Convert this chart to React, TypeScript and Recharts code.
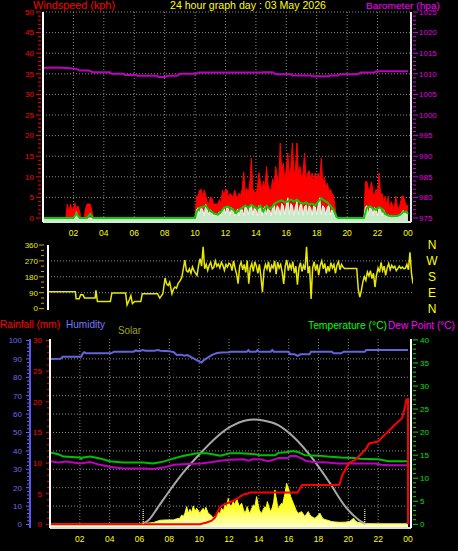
import React from 'react';
import { ComposedChart, Area, Line, XAxis, YAxis, CartesianGrid, ReferenceLine } from 'recharts';

const FONT = '"Liberation Sans", Arial, sans-serif';

type Pt = [number, number];

// ---------- data (hour of day, value) ----------
const windGust: Pt[] = [
  [0, 0], [1.5, 0], [1.6, 3.4], [1.7, 1.2], [1.8, 3.4], [1.9, 2.0], [2.0, 2.4], [2.1, 3.6], [2.2, 2.0], [2.3, 2.9], [2.4, 1.7], [2.5, 0], [2.7, 0], [2.8, 2.2], [2.9, 3.4], [3.0, 3.4], [3.1, 3.4], [3.2, 2.0], [3.3, 0],
  [10.0, 0], [10.1, 5.3], [10.2, 5.3], [10.3, 6.8], [10.4, 6.9], [10.5, 5.0], [10.6, 6.8], [10.7, 5.5], [10.8, 4.0], [10.9, 3.4], [11.0, 5.0], [11.1, 5.0], [11.2, 3.4], [11.3, 3.4], [11.4, 3.4], [11.5, 3.4], [11.6, 4.5], [11.7, 3.4], [11.8, 6.8], [11.9, 5.5],
  [12.0, 7.0], [12.1, 6.8], [12.2, 4.9], [12.3, 6.0], [12.4, 5.5], [12.5, 4.9], [12.6, 6.8], [12.7, 5.5], [12.8, 5.0], [12.9, 6.0], [13.0, 5.5], [13.1, 7.0], [13.2, 11.2], [13.3, 6.0], [13.4, 7.2], [13.5, 6.0], [13.6, 8.5], [13.7, 14.5], [13.8, 7.0], [13.9, 6.5],
  [14.0, 5.6], [14.1, 7.5], [14.2, 11.0], [14.3, 8.8], [14.4, 6.5], [14.5, 9.0], [14.6, 7.5], [14.7, 12.5], [14.8, 8.0], [14.9, 7.0], [15.0, 6.8], [15.1, 9.5], [15.2, 7.5], [15.3, 12.5], [15.4, 10.0], [15.5, 8.0], [15.6, 18.2], [15.7, 11.0], [15.8, 13.3], [15.9, 9.0],
  [16.0, 12.0], [16.1, 15.8], [16.2, 10.0], [16.3, 12.5], [16.4, 18.2], [16.5, 11.0], [16.6, 11.7], [16.7, 18.2], [16.8, 10.5], [16.9, 12.5], [17.0, 9.5], [17.1, 11.0], [17.2, 15.8], [17.3, 9.0], [17.4, 10.9], [17.5, 11.5], [17.6, 9.5], [17.7, 10.9], [17.8, 8.5], [17.9, 10.9],
  [18.0, 9.0], [18.1, 10.9], [18.2, 9.0], [18.3, 14.5], [18.4, 8.0], [18.5, 9.9], [18.6, 7.5], [18.7, 8.4], [18.8, 6.5], [18.9, 7.0], [19.0, 6.0], [19.1, 5.5], [19.2, 3.0], [19.3, 0],
  [21.1, 0], [21.2, 8.8], [21.3, 8.8], [21.4, 7.0], [21.5, 6.8], [21.6, 8.8], [21.7, 6.0], [21.8, 5.5], [21.9, 7.0], [22.0, 6.0], [22.1, 10.9], [22.2, 5.5], [22.3, 6.0], [22.4, 4.0], [22.5, 5.3], [22.6, 3.0], [22.7, 5.3], [22.8, 2.0], [22.9, 4.0],
  [23.0, 3.0], [23.1, 2.0], [23.2, 5.3], [23.3, 3.0], [23.4, 2.0], [23.5, 3.5], [23.6, 5.3], [23.7, 5.3], [23.8, 4.0], [23.9, 3.0], [24.0, 3.0],
];

const windSpeed: Pt[] = [
  [0, 0], [2.1, 0], [2.2, 1.5], [2.3, 0], [10.0, 0],
  [10.1, 2.0], [10.2, 2.5], [10.3, 1.0], [10.4, 2.6], [10.5, 2.0], [10.6, 0.5], [10.7, 3.3], [10.8, 2.0], [10.9, 0.8], [11.0, 2.0], [11.1, 1.5], [11.2, 0.5], [11.3, 1.2], [11.4, 0.6], [11.5, 1.0], [11.6, 1.5], [11.7, 0.5], [11.8, 2.0], [11.9, 2.5],
  [12.0, 1.0], [12.1, 2.7], [12.2, 2.2], [12.3, 0.6], [12.4, 2.5], [12.5, 2.0], [12.6, 0.5], [12.7, 1.2], [12.8, 2.2], [12.9, 0.5], [13.0, 2.4], [13.1, 2.0], [13.2, 0.6], [13.3, 3.0], [13.4, 2.4], [13.5, 0.8], [13.6, 2.7], [13.7, 3.3], [13.8, 0.6], [13.9, 2.5],
  [14.0, 2.0], [14.1, 0.5], [14.2, 3.0], [14.3, 2.5], [14.4, 0.5], [14.5, 2.2], [14.6, 2.8], [14.7, 0.8], [14.8, 2.5], [14.9, 2.0], [15.0, 0.5], [15.1, 2.8], [15.2, 3.5], [15.3, 0.8], [15.4, 3.0], [15.5, 2.5], [15.6, 0.6], [15.7, 3.5], [15.8, 3.0], [15.9, 0.8],
  [16.0, 3.2], [16.1, 4.9], [16.2, 0.8], [16.3, 3.5], [16.4, 3.0], [16.5, 0.6], [16.6, 2.8], [16.7, 4.0], [16.8, 0.8], [16.9, 3.0], [17.0, 3.5], [17.1, 0.6], [17.2, 2.8], [17.3, 3.2], [17.4, 0.8], [17.5, 3.0], [17.6, 2.5], [17.7, 0.6], [17.8, 3.0], [17.9, 2.7],
  [18.0, 0.8], [18.1, 3.2], [18.2, 4.9], [18.3, 0.8], [18.4, 3.0], [18.5, 2.5], [18.6, 0.6], [18.7, 2.7], [18.8, 3.0], [18.9, 0.8], [19.0, 2.0], [19.1, 1.5], [19.2, 0.3], [19.3, 0],
  [21.1, 0], [21.2, 2.7], [21.3, 3.0], [21.4, 0.8], [21.5, 2.7], [21.6, 2.5], [21.7, 0.6], [21.8, 2.5], [21.9, 2.2], [22.0, 0.5], [22.1, 2.6], [22.2, 2.0], [22.3, 0.5], [22.4, 2.0], [22.5, 1.2], [22.6, 0.4], [22.7, 0.8], [22.8, 0.3], [22.9, 0.6],
  [23.0, 0.3], [23.1, 0.5], [23.2, 0.3], [23.3, 0.6], [23.4, 0.3], [23.5, 0.8], [23.6, 1.5], [23.7, 1.8], [23.8, 0.6], [23.9, 1.5], [24.0, 1.0],
];

const windAverage: Pt[] = [
  [0, 0], [2.0, 0], [2.2, 1.1], [2.4, 0], [2.9, 0], [3.1, 1.0], [3.3, 0], [10.0, 0],
  [10.1, 1.5], [10.3, 2.5], [10.5, 2.7], [10.7, 3.0], [10.9, 2.0], [11.1, 1.5], [11.3, 1.0], [11.5, 0.8], [11.7, 1.5], [11.9, 2.5], [12.1, 2.8], [12.3, 2.5], [12.5, 2.0], [12.7, 1.2], [12.9, 2.0],
  [13.1, 2.5], [13.3, 3.0], [13.5, 2.5], [13.7, 3.2], [13.9, 2.7], [14.1, 2.2], [14.3, 3.0], [14.5, 1.6], [14.7, 3.0], [14.9, 2.2], [15.1, 2.8], [15.3, 3.7], [15.5, 4.0], [15.7, 4.3], [15.9, 3.8],
  [16.1, 4.0], [16.3, 4.5], [16.5, 4.0], [16.7, 4.5], [16.9, 3.7], [17.1, 3.5], [17.3, 3.8], [17.5, 3.3], [17.7, 3.5], [17.9, 3.0], [18.1, 4.0], [18.3, 4.8], [18.5, 4.2], [18.7, 3.8], [18.9, 3.0],
  [19.1, 2.0], [19.3, 0.3], [19.4, 0], [21.1, 0], [21.3, 2.5], [21.5, 2.8], [21.7, 2.3], [21.9, 2.0], [22.1, 2.6], [22.3, 2.2], [22.5, 1.0], [22.7, 0.6], [22.9, 0.4], [23.1, 0.5], [23.3, 0.5],
  [23.5, 0.8], [23.7, 1.5], [23.9, 1.5], [24.0, 1.0],
];

const barometer: Pt[] = [
  [0, 1011.4], [0.6, 1011.5], [1.6, 1011.4], [2.2, 1011.2], [2.4, 1010.8], [3.0, 1010.8], [3.3, 1010.4], [4.4, 1010.4], [4.5, 1010.0], [5.3, 1010.0], [5.4, 1009.7], [6.1, 1009.7], [6.2, 1009.5],
  [7.5, 1009.5], [7.6, 1009.2], [8.0, 1009.2], [8.2, 1009.5], [8.8, 1009.5], [9.0, 1010.0], [10.1, 1010.0], [10.2, 1010.3], [14.4, 1010.3], [14.5, 1010.4], [15.1, 1010.4], [15.3, 1009.9],
  [16.3, 1009.9], [16.4, 1009.6], [17.6, 1009.6], [17.7, 1009.4], [18.8, 1009.4], [18.9, 1009.6], [19.4, 1009.6], [19.5, 1009.9], [20.7, 1009.9], [20.9, 1010.3], [21.8, 1010.3], [21.9, 1010.6], [24, 1010.6],
];

const windDirection: Pt[] = [
  [0, 95], [1.8, 95], [1.85, 55], [2.05, 55], [2.15, 78], [2.3, 78], [2.4, 60], [3.1, 60], [3.15, 103], [3.25, 40], [4.1, 40], [4.2, 88], [5.1, 88], [5.2, 21], [5.35, 50], [5.45, 74], [5.55, 28], [5.7, 40], [6.1, 40], [6.2, 84], [7.2, 84], [7.35, 59], [7.55, 84],
  [7.7, 173], [7.8, 140], [7.9, 131], [8.0, 150], [8.15, 84], [8.25, 110], [8.35, 122], [8.45, 115], [8.55, 141], [8.7, 160], [8.8, 177], [8.9, 226], [9.0, 274], [9.1, 215], [9.2, 207], [9.3, 225], [9.4, 200], [9.5, 236], [9.6, 215], [9.7, 200], [9.8, 188], [9.9, 245],
  [10.0, 283], [10.1, 240], [10.2, 350], [10.3, 226], [10.4, 250], [10.5, 216], [10.6, 245], [10.7, 262], [10.8, 225], [10.9, 234], [11.0, 270], [11.1, 240], [11.2, 252], [11.3, 230], [11.4, 262], [11.5, 245], [11.6, 216], [11.7, 250], [11.8, 235], [11.9, 257],
  [12.0, 250], [12.1, 215], [12.2, 270], [12.3, 230], [12.4, 195], [12.5, 141], [12.6, 240], [12.7, 262], [12.8, 220], [12.9, 250], [13.0, 205], [13.1, 272], [13.2, 141], [13.3, 230], [13.4, 255], [13.5, 210], [13.6, 265], [13.7, 240], [13.8, 200], [13.9, 250],
  [14.0, 180], [14.1, 93], [14.2, 215], [14.3, 250], [14.4, 225], [14.5, 265], [14.6, 205], [14.7, 245], [14.8, 230], [14.9, 270], [15.0, 195], [15.1, 262], [15.2, 230], [15.3, 250], [15.4, 205], [15.5, 140], [15.6, 240], [15.7, 275], [15.8, 215], [15.9, 250],
  [16.0, 225], [16.1, 265], [16.2, 200], [16.3, 240], [16.4, 135], [16.5, 230], [16.6, 260], [16.7, 210], [16.8, 245], [16.9, 220], [17.0, 350], [17.1, 200], [17.2, 240], [17.3, 55], [17.4, 230], [17.5, 265], [17.6, 215], [17.7, 250], [17.8, 190], [17.9, 245],
  [18.0, 270], [18.1, 225], [18.2, 255], [18.3, 200], [18.4, 240], [18.5, 210], [18.6, 260], [18.7, 230], [18.8, 250], [18.9, 200], [19.0, 245], [19.1, 265], [19.2, 220], [19.3, 250], [19.4, 235], [19.5, 227],
  [20.3, 227], [20.4, 112], [20.5, 65], [20.6, 100], [20.7, 150], [20.8, 180], [20.9, 160], [21.0, 207], [21.1, 185], [21.2, 215], [21.3, 170], [21.4, 200], [21.5, 122], [21.6, 190], [21.7, 230], [21.8, 205], [21.9, 262],
  [22.0, 215], [22.1, 240], [22.2, 188], [22.3, 230], [22.4, 255], [22.5, 220], [22.6, 245], [22.7, 230], [22.8, 240], [22.9, 215], [23.0, 226], [23.1, 240], [23.2, 228], [23.3, 235], [23.4, 226], [23.5, 228], [23.6, 250], [23.7, 220], [23.8, 318], [23.9, 200], [24.0, 141],
];

const humidity: Pt[] = [
  [0, 89.9], [0.7, 90.0], [0.85, 91.2], [2.1, 91.2], [2.2, 93.0], [2.3, 93.6], [2.4, 93.0], [4.1, 93.0], [4.3, 93.9], [5.6, 93.9], [5.75, 94.6], [6.0, 94.2], [6.2, 94.8], [6.4, 94.4], [7.0, 94.4], [7.2, 94.8], [7.4, 94.4],
  [8.0, 94.2], [8.3, 93.6], [8.5, 92.1], [8.8, 92.3], [9.0, 91.7], [9.2, 92.1], [9.5, 90.8], [9.8, 89.4], [10.0, 88.6], [10.15, 88.0], [10.3, 89.2], [10.6, 90.8], [10.9, 92.3], [11.2, 93.2], [11.5, 93.5], [12.0, 93.6],
  [12.1, 93.9], [13.2, 93.9], [13.3, 94.7], [13.4, 93.9], [13.8, 93.9], [13.9, 94.7], [14.0, 93.9], [14.8, 93.9], [14.9, 94.8], [15.0, 93.9], [16.0, 93.9], [16.1, 92.5], [16.4, 92.5], [16.6, 91.6], [16.8, 92.5],
  [17.4, 92.5], [17.5, 93.9], [18.9, 93.9], [19.0, 93.0], [19.5, 93.0], [19.7, 93.9], [21.1, 93.9], [21.2, 94.8], [24, 94.8],
];

const temperature: Pt[] = [
  [0, 15.6], [0.55, 15.2], [0.9, 14.7], [2.0, 14.5], [2.1, 14.2], [2.2, 14.5], [2.7, 14.7], [3.35, 14.3], [4.0, 13.7], [4.9, 13.4], [6.25, 13.4], [6.9, 13.2], [7.6, 13.6], [8.3, 14.3], [8.9, 14.8],
  [9.85, 15.4], [10.5, 15.4], [10.9, 15.2], [11.4, 14.9], [12.06, 15.4], [12.8, 15.4], [13.75, 15.2], [14.1, 15.0], [15.1, 15.0], [15.3, 15.5], [15.95, 15.7], [16.3, 15.9], [16.6, 15.7], [17.1, 15.0],
  [18.0, 14.9], [18.6, 14.7], [19.5, 14.5], [20.4, 14.4], [20.8, 14.2], [22.0, 14.1], [22.7, 13.7], [24, 13.7],
];

const dewPoint: Pt[] = [
  [0, 13.7], [0.55, 13.4], [1.1, 13.6], [2.0, 13.2], [2.7, 13.5], [3.35, 12.9], [4.0, 12.5], [4.9, 12.1], [6.25, 12.1], [6.9, 12.0], [7.6, 12.3], [8.3, 12.9], [9.2, 13.1], [10.1, 13.2], [10.9, 13.5],
  [11.4, 13.8], [12.06, 14.0], [13.0, 14.1], [13.3, 13.8], [13.6, 14.1], [14.1, 14.1], [14.6, 13.7], [15.1, 14.1], [15.3, 14.4], [15.95, 14.4], [16.1, 14.8], [16.5, 14.8], [16.85, 14.3], [17.15, 13.8],
  [17.6, 13.5], [18.6, 13.4], [19.3, 13.2], [21.8, 13.2], [22.2, 12.9], [22.7, 12.8], [24, 12.8],
];

const rainfall: Pt[] = [
  [0, 0], [10.05, 0], [10.5, 0.3], [10.84, 0.6], [11.06, 1.1], [11.2, 1.9], [11.4, 2.8], [11.7, 3.3], [12.06, 3.6], [12.5, 4.1], [12.9, 4.8], [13.2, 5.0], [13.4, 5.2], [16.6, 5.2], [16.9, 6.4],
  [19.4, 6.4], [19.6, 8.1], [19.8, 8.9], [20.0, 9.9], [20.2, 10.2], [20.5, 10.6], [20.9, 11.6], [21.2, 12.4], [21.4, 13.2], [22.0, 13.5], [22.3, 14.3], [22.65, 15.1], [23.1, 16.2], [23.45, 17.0],
  [23.6, 17.3], [23.8, 19.2], [23.9, 20.4], [24, 20.4], [24, 0],
];

const solar: Pt[] = [
  [0, 0], [6.0, 0], [6.03, 3], [6.5, 4], [6.93, 8], [7.37, 20], [7.8, 22], [8.27, 22], [8.5, 28], [8.71, 31], [8.83, 49], [8.94, 40], [9.05, 60], [9.16, 94], [9.27, 58], [9.38, 80], [9.49, 62],
  [9.61, 98], [9.72, 67], [9.83, 85], [9.95, 70], [10.05, 58], [10.16, 75], [10.27, 85], [10.36, 70], [10.45, 90], [10.61, 58], [10.77, 49], [10.95, 31], [11.06, 45], [11.17, 40], [11.3, 65],
  [11.4, 55], [11.5, 85], [11.62, 70], [11.73, 103], [11.84, 90], [11.95, 139], [12.03, 110], [12.11, 94], [12.2, 105], [12.29, 121], [12.4, 100], [12.51, 139], [12.6, 115], [12.69, 94],
  [12.77, 105], [12.85, 112], [12.96, 80], [13.07, 58], [13.15, 75], [13.22, 94], [13.31, 70], [13.4, 58], [13.5, 80], [13.63, 103], [13.74, 95], [13.85, 148], [13.94, 110], [14.03, 76],
  [14.11, 65], [14.19, 58], [14.3, 80], [14.41, 94], [14.49, 85], [14.57, 121], [14.68, 90], [14.79, 67], [14.86, 80], [14.92, 94], [15.0, 120], [15.08, 184], [15.14, 150], [15.19, 130],
  [15.25, 100], [15.3, 80], [15.42, 100], [15.53, 112], [15.6, 105], [15.68, 139], [15.77, 170], [15.86, 220], [15.92, 205], [15.99, 193], [16.06, 170], [16.13, 148], [16.22, 130], [16.31, 112],
  [16.4, 95], [16.49, 76], [16.57, 65], [16.64, 58], [16.75, 62], [16.86, 67], [16.97, 55], [17.09, 40], [17.2, 55], [17.31, 67], [17.42, 50], [17.54, 40], [17.65, 35], [17.76, 31], [17.9, 40],
  [18.0, 50], [18.1, 58], [18.18, 45], [18.27, 31], [18.4, 25], [18.54, 22], [18.7, 18], [18.88, 13], [19.1, 11], [19.44, 9], [19.8, 10], [20.1, 14], [20.25, 25], [20.35, 31], [20.45, 18],
  [20.6, 10], [20.9, 5], [21.2, 2], [22, 1], [24, 1],
];

const solarMax: Pt[] = [
  [6.2, 0], [6.6, 20], [7.2, 86], [8.05, 184], [8.9, 275], [10.1, 384], [11.2, 472], [12.1, 526], [13.1, 560], [13.7, 565], [14.3, 560], [15.3, 535], [16.4, 465], [17.5, 364], [18.7, 229],
  [19.8, 94], [20.7, 22], [21.15, 0],
];

const sunriseHour = 6.25;
const sunsetHour = 21.1;

const hourTicks = [2, 4, 6, 8, 10, 12, 14, 16, 18, 20, 22, 24];
const gridHours = [2, 4, 6, 8, 10, 12, 14, 16, 18, 20, 22];
const compassNames: Record<number, string> = { 0: 'N', 90: 'E', 180: 'S', 270: 'W', 360: 'N' };

// ---------- helpers ----------
const rows = (pts: Pt[]) => pts.map(([h, v]) => ({ h, v }));
const steps = (from: number, to: number, step: number) => {
  const out: number[] = [];
  for (let i = 0; from + i * step <= to + 1e-9; i++) out.push(Math.round((from + i * step) * 100) / 100);
  return out;
};
const hourLabel = (h: number) => String(h % 24).padStart(2, '0');

type TickOpts = {
  side: 'left' | 'right'; color: string; every: number; font: number; off: number; major: number; minor: number; gap: number;
  fmt?: (v: number) => string; anchor?: 'start' | 'middle' | 'end'; tickColor?: string;
};
const makeTick = (o: TickOpts) => (props: any) => {
  const { x, y, payload } = props;
  const v = Number(payload.value);
  const isMajor = Math.abs(v / o.every - Math.round(v / o.every)) < 1e-6;
  const s = o.side === 'left' ? -1 : 1;
  const len = isMajor ? o.major : o.minor;
  return (
    <g>
      {len > 0 && (
        <line x1={x + s * o.off} x2={x + s * (o.off + len)} y1={y} y2={y} stroke={o.tickColor ?? o.color} strokeWidth={1} />
      )}
      {isMajor && (
        <text x={x + s * o.gap} y={y} dy={o.font * 0.36} textAnchor={o.anchor ?? (o.side === 'left' ? 'end' : 'start')}
          fill={o.color} fontSize={o.font} fontFamily={FONT}>
          {o.fmt ? o.fmt(v) : String(v)}
        </text>
      )}
    </g>
  );
};

const XTick = (props: any) => {
  const { x, y, payload } = props;
  return (
    <text x={x} y={y + 14} textAnchor="middle" fill="#ffff00" fontSize={8.5} fontFamily={FONT}>
      {hourLabel(Number(payload.value))}
    </text>
  );
};

const windTick = makeTick({ side: 'left', color: '#ff0000', every: 5, font: 8, off: 2, major: 5, minor: 3, gap: 9 });
const baroTick = makeTick({ side: 'right', color: '#e000e0', every: 5, font: 8, off: 2, major: 5, minor: 3, gap: 8 });
const dirTick = makeTick({ side: 'left', color: '#e8e800', every: 90, font: 8, off: 4, major: 5, minor: 3, gap: 10, tickColor: '#d0a000' });
const compassTick = makeTick({ side: 'right', color: '#ffff00', every: 90, font: 12, off: 0, major: 0, minor: 0, gap: 19, anchor: 'middle', fmt: (v) => compassNames[v] ?? '' });
const rainTick = makeTick({ side: 'left', color: '#ff0000', every: 5, font: 8, off: 1, major: 3, minor: 2, gap: 8 });
const humTick = makeTick({ side: 'left', color: '#6a6af0', every: 10, font: 8, off: 1, major: 3, minor: 2, gap: 8 });
const tempTick = makeTick({ side: 'right', color: '#00e000', every: 5, font: 8, off: 2, major: 5, minor: 3, gap: 9 });

const GRID = '#8a8a8a';

const TopChart = () => (
  <ComposedChart width={458} height={245} margin={{ top: 12, right: 0, bottom: 3, left: 0 }}>
    <CartesianGrid xAxisId="x" yAxisId="wind" stroke={GRID} strokeDasharray="1 2"
      horizontalValues={[5, 10, 15, 20, 25, 30, 35, 40, 45, 50]} verticalValues={gridHours} />
    <XAxis xAxisId="x" type="number" dataKey="h" domain={[0, 24.2]} allowDataOverflow ticks={hourTicks} interval={0}
      height={20} tickSize={0} tickMargin={0} tickLine={false} tick={XTick} axisLine={{ stroke: '#d4f0d4', strokeWidth: 2 }} />
    <YAxis yAxisId="wind" orientation="left" type="number" domain={[-0.97, 50]} allowDataOverflow ticks={steps(0, 50, 1)} interval={0}
      width={43} tickSize={0} tickMargin={0} tickLine={false} tick={windTick} axisLine={{ stroke: '#ffffff', strokeWidth: 2 }} />
    <YAxis yAxisId="baro" orientation="right" type="number" domain={[974.03, 1025]} allowDataOverflow ticks={steps(975, 1025, 1)} interval={0}
      width={47} tickSize={0} tickMargin={0} tickLine={false} tick={baroTick} axisLine={{ stroke: '#e8e8e8', strokeWidth: 2 }} />
    <Area xAxisId="x" yAxisId="wind" data={rows(windGust)} dataKey="v" type="linear" stroke="#ff0000" strokeWidth={1}
      fill="#ff0000" fillOpacity={1} dot={false} activeDot={false} isAnimationActive={false} />
    <Area xAxisId="x" yAxisId="wind" data={rows(windSpeed)} dataKey="v" type="linear" stroke="#eefcee" strokeWidth={1}
      fill="#c8eac8" fillOpacity={1} baseValue="dataMin" dot={false} activeDot={false} isAnimationActive={false} />
    <Line xAxisId="x" yAxisId="wind" data={rows(windAverage)} dataKey="v" type="linear" stroke="#00d000" strokeWidth={2}
      dot={false} activeDot={false} isAnimationActive={false} />
    <Line xAxisId="x" yAxisId="baro" data={rows(barometer)} dataKey="v" type="linear" stroke="#c000c0" strokeWidth={2}
      dot={false} activeDot={false} isAnimationActive={false} />
  </ComposedChart>
);

const DirChart = () => (
  <ComposedChart width={458} height={320} margin={{ top: 245, right: 0, bottom: 10, left: 0 }}>
    <CartesianGrid xAxisId="x" yAxisId="dir" vertical={false} stroke={GRID} strokeDasharray="1 2" horizontalValues={[90, 180, 270]} />
    <XAxis xAxisId="x" type="number" dataKey="h" domain={[0, 24]} allowDataOverflow height={0} tick={false} tickLine={false}
      axisLine={{ stroke: '#e0e0e0', strokeWidth: 2 }} />
    <XAxis xAxisId="top" orientation="top" type="number" domain={[0, 24]} allowDataOverflow height={0} tick={false} tickLine={false}
      axisLine={{ stroke: '#9a9a9a', strokeWidth: 2 }} />
    <YAxis yAxisId="dir" orientation="left" type="number" domain={[-8, 360]} allowDataOverflow ticks={steps(0, 360, 30)} interval={0}
      width={48} tickSize={0} tickMargin={0} tickLine={false} tick={dirTick} axisLine={{ stroke: '#ffffff', strokeWidth: 2 }} />
    <YAxis yAxisId="compass" orientation="right" type="number" domain={[-8, 360]} allowDataOverflow ticks={[0, 90, 180, 270, 360]} interval={0}
      width={45} tickSize={0} tickMargin={0} tickLine={false} tick={compassTick} axisLine={false} />
    <Line xAxisId="x" yAxisId="dir" data={rows(windDirection)} dataKey="v" type="linear" stroke="#e8e800" strokeWidth={1.5}
      dot={false} activeDot={false} isAnimationActive={false} />
  </ComposedChart>
);

// axis ids: "a_rain" sits next to the plot, "b_hum" outside it
const BottomChart = () => (
  <ComposedChart width={458} height={551} margin={{ top: 339, right: 0, bottom: 3, left: 0 }}>
    <defs>
      <linearGradient id="solarFill" x1="0" y1="0" x2="0" y2="1">
        <stop offset="0" stopColor="#ffff00" />
        <stop offset="0.55" stopColor="#ffff30" />
        <stop offset="1" stopColor="#ffffcc" />
      </linearGradient>
    </defs>
    <CartesianGrid xAxisId="x" yAxisId="b_hum" stroke={GRID} strokeDasharray="1 2"
      horizontalValues={[10, 20, 30, 40, 50, 60, 70, 80, 90]} verticalValues={gridHours} />
    <XAxis xAxisId="x" type="number" dataKey="h" domain={[0, 24.2]} allowDataOverflow ticks={hourTicks} interval={0}
      height={20} tickSize={0} tickMargin={0} tickLine={false} tick={XTick} axisLine={{ stroke: '#dcdcdc', strokeWidth: 2 }} />
    <XAxis xAxisId="top" orientation="top" type="number" domain={[0, 24.2]} allowDataOverflow height={0} tick={false} tickLine={false}
      axisLine={{ stroke: '#a8a8a8', strokeWidth: 2 }} />
    <YAxis yAxisId="a_rain" orientation="left" type="number" domain={[-0.6, 30.24]} allowDataOverflow ticks={steps(0, 30, 1)} interval={0}
      width={20} tickSize={0} tickMargin={0} tickLine={false} tick={rainTick} axisLine={{ stroke: '#ffffff', strokeWidth: 2 }} />
    <YAxis yAxisId="b_hum" orientation="left" type="number" domain={[-1.9, 100.8]} allowDataOverflow ticks={steps(0, 100, 2)} interval={0}
      width={30} tickSize={0} tickMargin={0} tickLine={false} tick={humTick} axisLine={{ stroke: '#5a5af0', strokeWidth: 2 }} />
    <YAxis yAxisId="temp" orientation="right" type="number" domain={[-0.8, 40.2]} allowDataOverflow ticks={steps(0, 40, 1)} interval={0}
      width={47} tickSize={0} tickMargin={0} tickLine={false} tick={tempTick} axisLine={{ stroke: '#ffffff', strokeWidth: 2 }} />
    <YAxis yAxisId="solar" hide type="number" domain={[-21.6, 1000]} allowDataOverflow />
    <Area xAxisId="x" yAxisId="solar" data={rows(solar)} dataKey="v" type="linear" stroke="#ffff00" strokeWidth={1}
      fill="url(#solarFill)" fillOpacity={1} baseValue="dataMin" dot={false} activeDot={false} isAnimationActive={false} />
    <Line xAxisId="x" yAxisId="solar" data={rows(solarMax)} dataKey="v" type="monotone" stroke="#a8a8a8" strokeWidth={2}
      dot={false} activeDot={false} isAnimationActive={false} />
    <Line xAxisId="x" yAxisId="b_hum" data={rows(humidity)} dataKey="v" type="linear" stroke="#6464dc" strokeWidth={2}
      dot={false} activeDot={false} isAnimationActive={false} />
    <Line xAxisId="x" yAxisId="temp" data={rows(temperature)} dataKey="v" type="linear" stroke="#00c000" strokeWidth={2}
      dot={false} activeDot={false} isAnimationActive={false} />
    <Line xAxisId="x" yAxisId="temp" data={rows(dewPoint)} dataKey="v" type="linear" stroke="#c000c0" strokeWidth={2}
      dot={false} activeDot={false} isAnimationActive={false} />
    <Line xAxisId="x" yAxisId="a_rain" data={rows(rainfall)} dataKey="v" type="linear" stroke="#ff0000" strokeWidth={2}
      dot={false} activeDot={false} isAnimationActive={false} />
    <ReferenceLine xAxisId="x" yAxisId="solar" segment={[{ x: sunriseHour, y: 0 }, { x: sunriseHour, y: 80 }]}
      stroke="#e8e800" strokeWidth={1.5} strokeDasharray="1 1" />
    <ReferenceLine xAxisId="x" yAxisId="solar" segment={[{ x: sunsetHour, y: 0 }, { x: sunsetHour, y: 80 }]}
      stroke="#e8e800" strokeWidth={1.5} strokeDasharray="1 1" />
  </ComposedChart>
);

const Title = ({ x, y, w, color, text, size = 11 }: { x: number; y: number; w: number; color: string; text: string; size?: number }) => (
  <text x={x} y={y} fill={color} fontSize={size} fontFamily={FONT} textLength={w} lengthAdjust="spacingAndGlyphs">{text}</text>
);

export default function App() {
  return (
    <div style={{ position: 'fixed', left: 0, top: 0, width: 458, height: 551, background: '#000000', overflow: 'hidden' }}>
      <div style={{ position: 'absolute', left: 0, top: 0 }}><TopChart /></div>
      <div style={{ position: 'absolute', left: 0, top: 0 }}><DirChart /></div>
      <div style={{ position: 'absolute', left: 0, top: 0 }}><BottomChart /></div>
      <svg width={458} height={551} style={{ position: 'absolute', left: 0, top: 0, pointerEvents: 'none' }}>
        <Title x={33} y={9} w={82} color="#ff0000" text="Windspeed (kph)" size={10} />
        <Title x={170} y={9.3} w={156} color="#ffff00" text="24 hour graph day : 03 May 2026" size={10} />
        <Title x={366} y={8.6} w={74} color="#ff00ff" text="Barometer (hpa)" size={9.5} />
        <Title x={0} y={327.5} w={60} color="#ff0000" text="Rainfall (mm)" />
        <Title x={66} y={327.5} w={39} color="#7878ff" text="Humidity" />
        <Title x={118} y={333.5} w={23} color="#a0a028" text="Solar" />
        <Title x={308} y={328.5} w={79} color="#00ff00" text="Temperature (°C)" />
        <Title x={388} y={328.5} w={67} color="#ff00ff" text="Dew Point (°C)" size={10} />
      </svg>
    </div>
  );
}
